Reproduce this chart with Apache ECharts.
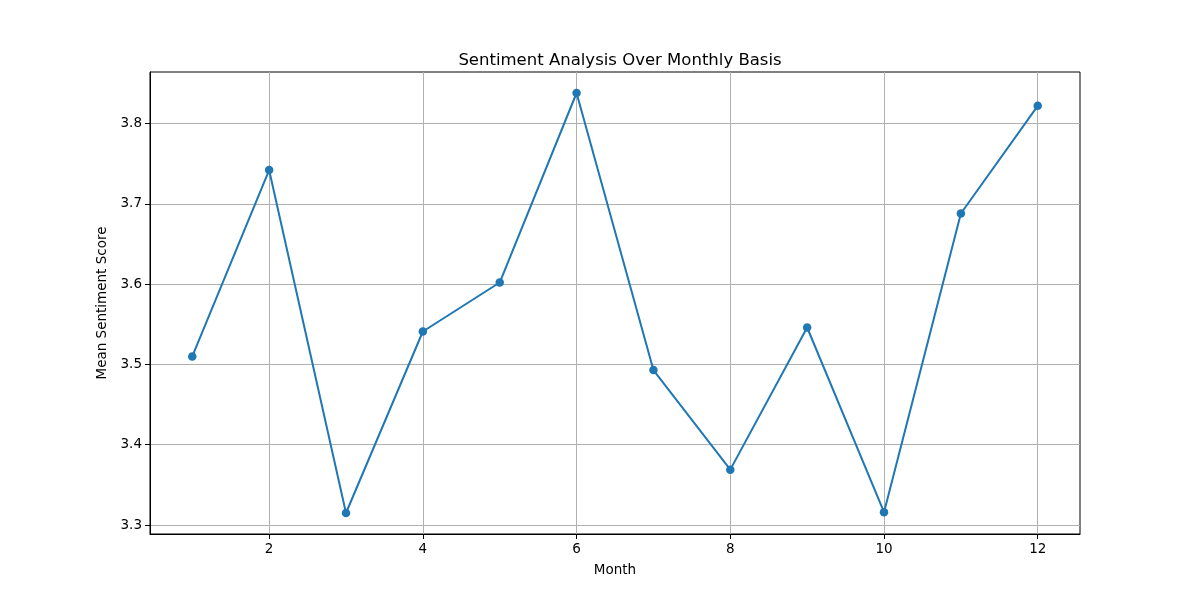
<!DOCTYPE html>
<html>
<head>
<meta charset="utf-8">
<script src="https://cdn.jsdelivr.net/npm/echarts@6/dist/echarts.min.js"></script>
<style>
  html, body { margin: 0; padding: 0; background: #fff; }
  #main { width: 1200px; height: 600px; }
</style>
</head>
<body>
<div id="main"></div>
<script>
// data
var months = [1, 2, 3, 4, 5, 6, 7, 8, 9, 10, 11, 12];
var meanScores = [3.510, 3.742, 3.315, 3.541, 3.602, 3.838, 3.493, 3.369, 3.546, 3.316, 3.688, 3.822];
var xTicks = [2, 4, 6, 8, 10, 12];
var yTicks = [3.3, 3.4, 3.5, 3.6, 3.7, 3.8];

// matplotlib style 5% margins
var xPad = (12 - 1) * 0.05;
var yMin = Math.min.apply(null, meanScores);
var yMax = Math.max.apply(null, meanScores);
var yPad = (yMax - yMin) * 0.05;

var points = months.map(function (m, i) { return [m, meanScores[i]]; });

var font = 'DejaVu Sans';
var myChart = echarts.init(document.getElementById('main'));

var option = {
    animation: false,
    backgroundColor: '#fff',
    textStyle: { fontFamily: font },
    title: {
        text: 'Sentiment Analysis Over Monthly Basis',
        left: 615,
        top: 47,
        textAlign: 'center',
        textStyle: { fontFamily: font, fontSize: 16.5, fontWeight: 'normal', color: '#000' }
    },
    grid: {
        left: 150, right: 120, top: 72, bottom: 66,
        show: true, borderColor: '#000', borderWidth: 1, backgroundColor: 'transparent'
    },
    xAxis: {
        type: 'value',
        min: 1 - xPad,
        max: 12 + xPad,
        name: 'Month',
        nameLocation: 'middle',
        nameGap: 29,
        nameTextStyle: { fontFamily: font, fontSize: 13.5, color: '#000' },
        axisLine: { show: true, lineStyle: { color: '#000', width: 1 } },
        axisTick: { show: true, inside: false, length: 5, customValues: xTicks, lineStyle: { color: '#000' } },
        axisLabel: { customValues: xTicks, fontFamily: font, fontSize: 13.5, color: '#000', margin: 8 },
        splitLine: { show: true, lineStyle: { color: '#b0b0b0', width: 1 } }
    },
    yAxis: {
        type: 'value',
        min: yMin - yPad,
        max: yMax + yPad,
        name: 'Mean Sentiment Score',
        nameLocation: 'middle',
        nameGap: 38,
        nameTextStyle: { fontFamily: font, fontSize: 13.5, color: '#000' },
        axisLine: { show: true, lineStyle: { color: '#000', width: 1 } },
        axisTick: { show: true, inside: false, length: 5, customValues: yTicks, lineStyle: { color: '#000' } },
        axisLabel: {
            customValues: yTicks, fontFamily: font, fontSize: 13.5, color: '#000', margin: 8,
            formatter: function (v) { return v.toFixed(1); }
        },
        splitLine: { show: true, lineStyle: { color: '#b0b0b0', width: 1 } }
    },
    series: [{
        type: 'line',
        data: points,
        symbol: 'circle',
        symbolSize: 8.5,
        lineStyle: { color: '#1f77b4', width: 2 },
        itemStyle: { color: '#1f77b4' }
    }]
};

myChart.setOption(option);
</script>
</body>
</html>
